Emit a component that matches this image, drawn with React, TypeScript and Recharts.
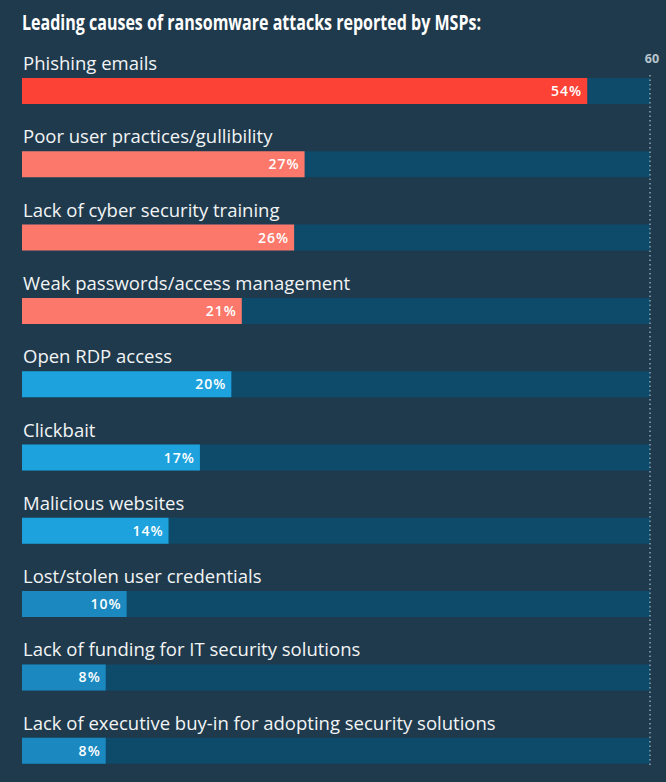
import React from 'react';
import { BarChart, Bar, XAxis, YAxis, Cell, LabelList, ReferenceLine } from 'recharts';

const CAUSES = [
  'Phishing emails',
  'Poor user practices/gullibility',
  'Lack of cyber security training',
  'Weak passwords/access management',
  'Open RDP access',
  'Clickbait',
  'Malicious websites',
  'Lost/stolen user credentials',
  'Lack of funding for IT security solutions',
  'Lack of executive buy-in for adopting security solutions',
];

const SHARES = [54, 27, 26, 21, 20, 17, 14, 10, 8, 8];

const BAR_COLORS = [
  '#fc4236',
  '#fc786a', '#fc786a', '#fc786a',
  '#1da2dd', '#1da2dd', '#1da2dd',
  '#1b89bf', '#1b89bf', '#1b89bf',
];

const MAX = 60;

const data = CAUSES.map((name, i) => ({ name, value: SHARES[i] }));

const BG = '#1f3a4c';
const TRACK = '#0e4b6b';
const FONT = '"Open Sans", "Noto Sans", sans-serif';

const CategoryLabel = (props: any) => {
  const { x, y, value } = props;
  return (
    <text x={x + 1} y={y - 8} fill="#f2f4f5" fontSize={18.5} fontFamily={FONT}>
      {value}
    </text>
  );
};

const ValueLabel = (props: any) => {
  const { x, y, width, height, value } = props;
  return (
    <text
      x={x + width - 5}
      y={y + height / 2 + 5}
      fill="#ffffff"
      fontSize={14}
      fontWeight={600}
      letterSpacing={1}
      textAnchor="end"
      fontFamily={FONT}
    >
      {value}%
    </text>
  );
};

const MaxLine = (props: any) => {
  const { x1, y1, y2 } = props;
  const top = Math.min(y1, y2);
  const bottom = Math.max(y1, y2);
  return (
    <g>
      <line x1={x1} x2={x1} y1={top + 21} y2={bottom - 22} stroke="#8fa6b6" strokeWidth={1.5} strokeDasharray="1.5 3" />
      <text x={x1 + 2} y={top + 9} fill="#b9c6cf" fontSize={12.5} fontWeight={700} textAnchor="middle" fontFamily={FONT}>
        {MAX}
      </text>
    </g>
  );
};

export default function App() {
  return (
    <div style={{ position: 'absolute', left: 0, top: 0, width: 666, height: 782, background: BG, overflow: 'hidden' }}>
      <svg width={666} height={40} style={{ position: 'absolute', left: 0, top: 0 }}>
        <text
          x={22}
          y={29.5}
          fill="#ffffff"
          fontSize={20.5}
          fontWeight={700}
          fontFamily={FONT}
          textLength={459}
          lengthAdjust="spacingAndGlyphs"
        >
          Leading causes of ransomware attacks reported by MSPs:
        </text>
      </svg>
      <div style={{ position: 'absolute', left: 0, top: 0 }}>
        <BarChart
          width={666}
          height={782}
          data={data}
          layout="vertical"
          margin={{ top: 54, right: 16, left: 22, bottom: -5 }}
          barSize={26}
        >
          <XAxis type="number" domain={[0, MAX]} hide />
          <YAxis type="category" dataKey="name" hide />
          <ReferenceLine x={MAX} shape={MaxLine} />
          <Bar dataKey="value" isAnimationActive={false} background={{ fill: TRACK }}>
            {data.map((d, i) => (
              <Cell key={d.name} fill={BAR_COLORS[i]} />
            ))}
            <LabelList dataKey="name" content={CategoryLabel} />
            <LabelList dataKey="value" content={ValueLabel} />
          </Bar>
        </BarChart>
      </div>
    </div>
  );
}
